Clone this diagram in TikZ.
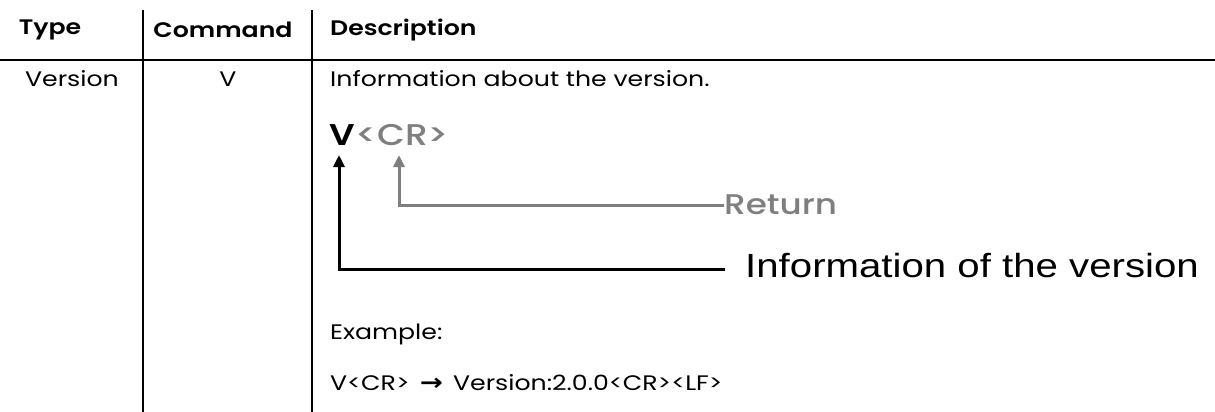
\documentclass[tikz,border=0pt]{standalone}
\usepackage{fontspec}
\setmainfont{Poppins}[FakeStretch=1.2]
\newfontfamily\hdrf{Poppins SemiBold}[FakeStretch=1.2]
\newfontfamily\medf{Poppins Medium}[FakeStretch=1.2]
\newfontfamily\arialf{Liberation Sans}[FakeStretch=1.2]
\newfontfamily\arrowf{DejaVu Sans}[FakeStretch=1.2]
\usetikzlibrary{arrows.meta}
\definecolor{gr}{HTML}{7F7F7F}
\tikzset{
  rule/.style={line width=2.4pt, black},
  hdr/.style={font=\hdrf\fontsize{21}{24}\selectfont, inner sep=0pt},
  body/.style={font=\fontsize{21}{24}\selectfont, inner sep=0pt},
  arr/.style={line width=3pt, -{Triangle[width=11pt,length=12pt]}},
}
\begin{document}
\begin{tikzpicture}[x=1pt,y=-1pt]
\useasboundingbox (0,0) rectangle (1215,412);
% table rules
\draw[rule] (0,60) -- (1215,60);
\draw[rule] (143,10) -- (143,412);
\draw[rule] (312,10) -- (312,412);
% headers
\node[hdr] (htype) at (50,30) {Type};
\node[hdr] (hcmd) at (223,30) {Command};
\node[hdr, anchor=west] (hdesc) at (330,30) {Description};
% row
\node[body] (rtype) at (72,79) {Version};
\node[body] (rcmd) at (228,79) {V};
\node[body, anchor=west] (rdesc) at (330,79) {Information about the version.};
% big V<CR>
\node[inner sep=0pt, anchor=base west, font=\hdrf\fontsize{30}{34}\selectfont] (bigV) at (329,145) {V};
\node[inner sep=0pt, anchor=base west, text=gr, font=\medf\fontsize{30}{36}\selectfont] (bigCR) at (bigV.base east) {<CR>};
\coordinate (vtip) at (339,155);
\coordinate (crtip) at (399,155);
% labels
\node[inner sep=0pt, anchor=west, text=gr, font=\medf\fontsize{28.5}{34}\selectfont] (ret) at (724,205) {Return};
\node[inner sep=0pt, anchor=west, font=\arialf\fontsize{33.5}{38}\selectfont] (info) at (745,266) {Information of the version};
% arrows
\draw[arr, gr] (ret.west) -- (399,205) -- (crtip);
\coordinate (infoend) at (725,269);
\draw[arr, black] (infoend) -- (339,269) -- (vtip);
% example
\node[body, anchor=west] (ex) at (330,334) {Example:};
\node[body, anchor=west] (ex2) at (330,383) {V<CR>\ \,{\arrowf\bfseries\fontsize{23}{24}\selectfont →}\ \,Version:2.0.0<CR><LF>};
\end{tikzpicture}
\end{document}
